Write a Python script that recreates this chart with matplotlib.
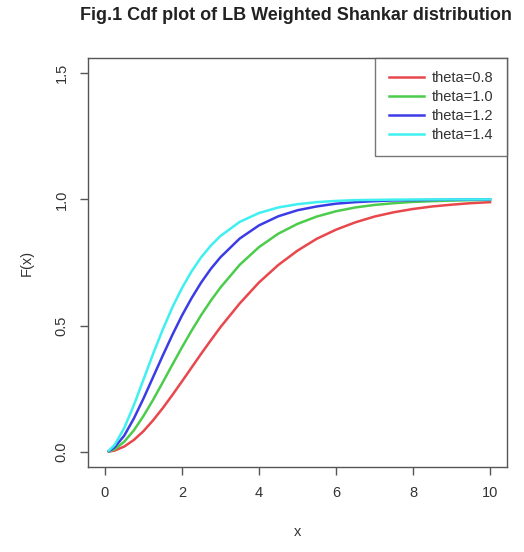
#import neccessary libraries
import numpy as np
import matplotlib.pyplot as plt

plt.rcParams['font.family'] = ['Liberation Sans', 'DejaVu Sans']

#values
x = [0.1, 0.25, 0.5, 0.75, 1, 1.25, 1.5, 1.75, 2, 2.25, 2.5, 2.75, 3, 3.5, 4, 4.5, 5,
     5.5, 6, 6.5, 7, 7.5, 8, 8.5, 9, 9.5, 10]
f_08 = [0.001, 0.005, 0.021, 0.047, 0.082, 0.125, 0.173, 0.225, 0.279, 0.334, 0.389,
        0.442, 0.494, 0.588, 0.671, 0.740, 0.797, 0.844, 0.880, 0.909, 0.932, 0.949,
        0.962, 0.972, 0.979, 0.985, 0.989]
f_10 = [0.002, 0.010, 0.040, 0.085, 0.142, 0.206, 0.275, 0.345, 0.414, 0.480, 0.542,
        0.599, 0.651, 0.741, 0.811, 0.864, 0.903, 0.932, 0.953, 0.968, 0.978, 0.985,
        0.990, 0.993, 0.995, 0.997, 0.998]
f_12 = [0.003, 0.018, 0.064, 0.132, 0.211, 0.296, 0.381, 0.463, 0.540, 0.609, 0.671,
        0.725, 0.771, 0.845, 0.897, 0.933, 0.957, 0.972, 0.983, 0.989, 0.993, 0.996,
        0.997, 0.998, 0.999, 0.9995, 0.9997]
f_14 = [0.005, 0.027, 0.094, 0.185, 0.286, 0.388, 0.484, 0.572, 0.649, 0.715, 0.771,
        0.817, 0.855, 0.911, 0.946, 0.968, 0.981, 0.989, 0.994, 0.997, 0.998, 0.999,
        0.9994, 0.9997, 0.9998, 0.9999, 1.0]
labels = ['theta=0.8', 'theta=1.0', 'theta=1.2', 'theta=1.4']
colors = ['#e8474c', '#4ccc4c', '#3c3ce6', '#3ff0f0']
xticks = [0, 2, 4, 6, 8, 10]
yticks = [0.0, 0.5, 1.0, 1.5]

#draw figure
fig = plt.figure(figsize=(5.24, 5.52), dpi=100)
ax = fig.add_axes([88/524, 85/552, 419/524, 409/552])
for ys, lab, col in zip([f_08, f_10, f_12, f_14], labels, colors):
    ax.plot(x, ys, color=col, linewidth=1.8, label=lab)

ax.set_xlim(-0.44, 10.44)
ax.set_ylim(-0.06, 1.56)
ax.set_xticks(xticks)
ax.set_xticklabels([str(t) for t in xticks])
ax.set_yticks(yticks)
ax.set_yticklabels(['%.1f' % t for t in yticks], rotation=90, va='center')
ax.tick_params(axis='both', direction='out', length=6, width=1, colors='#555555',
               labelcolor='#333333', labelsize=10.5, pad=8)
for sp in ax.spines.values():
    sp.set_color('#555555')
    sp.set_linewidth(1)

ax.set_xlabel('x', fontsize=10.5, color='#333333', labelpad=18)
ax.set_ylabel('F(x)', fontsize=10.5, color='#333333', labelpad=15)
fig.text(296/524, 1 - 16/552, 'Fig.1 Cdf plot of LB Weighted Shankar distribution',
         ha='center', va='center', fontsize=13, fontweight='bold', color='#222222')

leg = ax.legend(loc='upper right', borderaxespad=0, fancybox=False, fontsize=10.5,
                handlelength=2.4, labelspacing=0.35, borderpad=0.9, handletextpad=0.6)
leg.get_frame().set_edgecolor('#555555')
leg.get_frame().set_linewidth(1)
for t in leg.get_texts():
    t.set_color('#333333')

plt.savefig('out.png', dpi=100)
